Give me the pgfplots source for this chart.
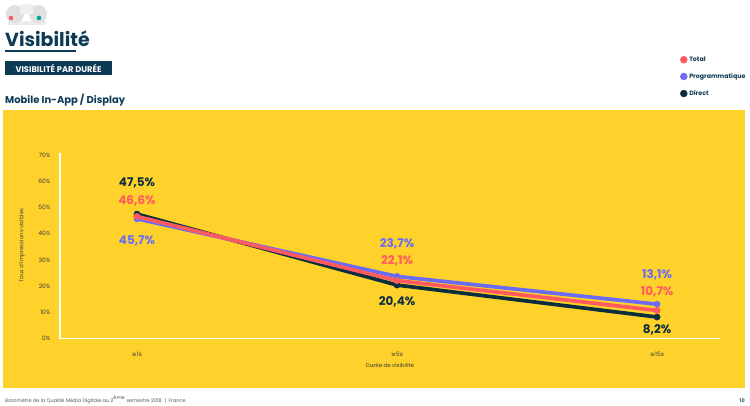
\documentclass[border=0pt]{standalone}
\usepackage{fontspec}
\setmainfont{Poppins}
\newfontfamily\symfont{DejaVu Sans}
\usepackage{pgfplots}
\usepackage{pgfplotstable}
\pgfplotsset{compat=1.18}

\definecolor{panel}{HTML}{FED22B}
\definecolor{totalc}{HTML}{FF5A5F}
\definecolor{progc}{HTML}{6B6BF5}
\definecolor{directc}{HTML}{0B2E3F}
\definecolor{navy}{HTML}{0D3A55}
\definecolor{textgrey}{HTML}{3C3C3C}

% x = category, y = value, dy = label offset (pt)
\pgfplotstableread{
x y dy
0 47.5 31
1 20.4 -17
2 8.2 -13
}\direct
\pgfplotstableread{
x y dy
0 45.7 -22
1 23.7 33
2 13.1 29
}\prog
\pgfplotstableread{
x y dy
0 46.6 16
1 22.1 20
2 10.7 19
}\total

\pgfplotsset{
  serie/.style={
    #1, line width=3.7bp, mark=*, mark size=3.1bp,
    mark options={solid, line width=0.5bp},
    nodes near coords={\pgfmathprintnumber[fixed,fixed zerofill,precision=1,use comma]{\pgfplotspointmeta}\%},
    visualization depends on={\thisrow{dy} \as \dy},
    every node near coord/.append style={anchor=center, yshift=\dy,
      font=\bfseries\fontsize{12}{13}\selectfont, text=#1},
    forget plot
  }
}

\begin{document}
\begin{tikzpicture}
\useasboundingbox (0,0) rectangle (750bp,-406bp);
\fill[white] (0,0) rectangle (750bp,-406bp);

% logo
\fill[black!8] (8bp,-21bp) rectangle (46bp,-25bp);
\fill[black!12] (15bp,-14bp) circle (9bp);
\fill[black!12] (38bp,-14bp) circle (9bp);
\fill[black!6] (20bp,-4bp) rectangle (33bp,-14bp);
\fill[totalc] (11bp,-18bp) circle (2.3bp);
\fill[teal!70!cyan] (39bp,-18bp) circle (2.3bp);

% headings
\node[anchor=base west, inner sep=0, text=navy, font=\bfseries\fontsize{19}{20}\selectfont] at (5bp,-46bp) {Visibilité};
\fill[navy] (5bp,-50bp) rectangle (76bp,-51.5bp);
\fill[navy] (5bp,-61bp) rectangle (112bp,-75bp);
\node[text=white, font=\bfseries\fontsize{8.3}{9}\selectfont, inner sep=0] at (58.5bp,-68bp) {VISIBILITÉ PAR DURÉE};
\node[anchor=base west, inner sep=0, text=navy, font=\bfseries\fontsize{10}{12}\selectfont] at (5bp,-103bp) {Mobile In-App / Display};

% panel
\fill[panel] (3bp,-110bp) rectangle (745bp,-388bp);

% footer
\node[anchor=base west, inner sep=0, text=black!65, font=\fontsize{5}{6}\selectfont] at (5bp,-402bp) {Baromètre de la Qualité Média Digitale au 2\textsuperscript{ème} semestre 2018 \ | \ France};
\node[anchor=base east, inner sep=0, text=navy!80, font=\bfseries\fontsize{5}{6}\selectfont] at (745bp,-402bp) {10};

\begin{axis}[
  at={(60bp,-338.5bp)}, anchor=south west,
  scale only axis, width=660bp, height=186bp,
  xmin=-0.296, xmax=2.242, ymin=0, ymax=71,
  axis x line=bottom, axis y line=left,
  axis line style={-, white, line width=1.5bp},
  major tick length=0,
  xtick={0,1,2},
  xticklabels={{\symfont ≥}1s,{\symfont ≥}5s,{\symfont ≥}15s},
  ytick={0,10,...,70},
  yticklabel={\pgfmathprintnumber{\tick}\%},
  /pgf/number format/assume math mode=true,
  tick label style={font=\fontsize{6}{7}\selectfont, text=textgrey},
  xticklabel style={anchor=center, yshift=-15.5bp},
  yticklabel style={anchor=east, xshift=-6bp},
  xlabel={Durée de visibilité},
  ylabel={Taux d'impressions visibles},
  label style={font=\fontsize{5.5}{6}\selectfont, text=textgrey},
  xlabel style={at={(axis description cs:0.5,-0.142)}, anchor=center},
  ylabel style={at={(axis description cs:-0.0576,0.5)}, anchor=center, rotate=0},
  clip=false,
  legend style={draw=none, fill=none, at={(axis description cs:0.935,1.538)},
    anchor=north west, font=\bfseries\fontsize{6.3}{7}\selectfont,
    text=navy, row sep=6.5bp, cells={anchor=west},
    /tikz/every odd column/.append style={column sep=0bp}},
]
\addlegendimage{only marks, mark=*, mark size=3.5bp, totalc}
\addlegendentry{Total}
\addlegendimage{only marks, mark=*, mark size=3.5bp, progc}
\addlegendentry{Programmatique}
\addlegendimage{only marks, mark=*, mark size=3.5bp, directc}
\addlegendentry{Direct}

\addplot[serie=directc] table[x=x, y=y] {\direct};
\addplot[serie=progc] table[x=x, y=y] {\prog};
\addplot[serie=totalc] table[x=x, y=y] {\total};
\end{axis}
\end{tikzpicture}
\end{document}
